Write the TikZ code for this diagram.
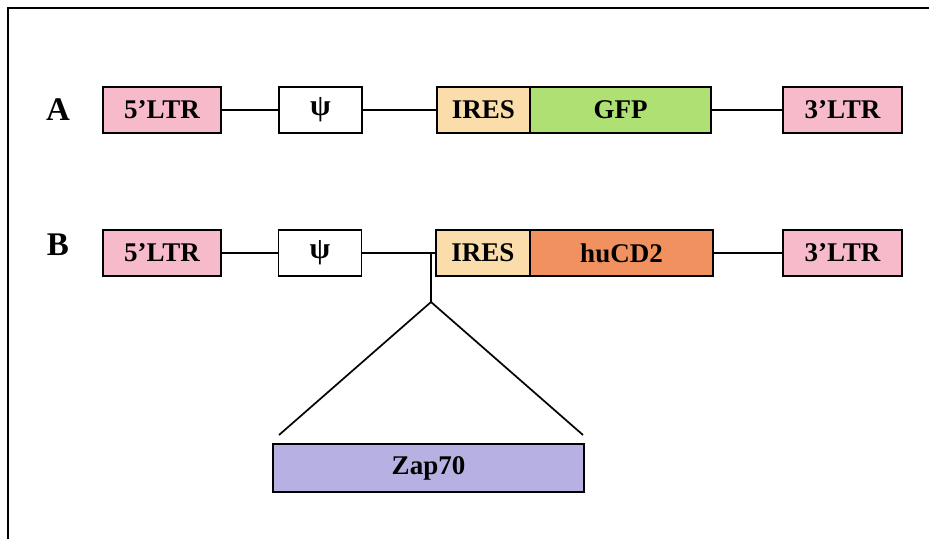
\documentclass[tikz,border=0pt]{standalone}
\usepackage{fontspec}
\setmainfont{Liberation Serif}
\definecolor{ltrpink}{RGB}{246,186,202}
\definecolor{irespeach}{RGB}{250,221,170}
\definecolor{gfpgreen}{RGB}{175,224,115}
\definecolor{cdorange}{RGB}{240,145,95}
\definecolor{zaplav}{RGB}{182,177,226}
\begin{document}
\begin{tikzpicture}[x=1pt,y=-1pt,
  seg/.style={draw=black,line width=1.9pt,rectangle,inner sep=0pt,minimum height=46pt,
    font=\fontsize{27}{30}\selectfont\bfseries},
  psistyle/.style={font=\fontsize{30}{32}\selectfont\bfseries},
  conn/.style={line width=1.7pt},
  rowlabel/.style={font=\fontsize{33}{36}\selectfont\bfseries,inner sep=0pt}]
\useasboundingbox (0,0) rectangle (929,539);
\draw[line width=2.2pt] (8,539) -- (8,8) -- (929,8);
% Row A
\node[rowlabel] (labA) at (58,110) {A};
\node[seg,fill=ltrpink,minimum width=118pt] (ltr5a) at (162,110) {5’LTR};
\node[seg,psistyle,fill=white,minimum width=83pt] (psia) at (320.5,110) {ψ};
\node[seg,fill=irespeach,minimum width=93pt] (iresa) at (483.5,110) {IRES};
\node[seg,fill=gfpgreen,minimum width=181pt] (gfp) at (620.5,110) {GFP};
\node[seg,fill=ltrpink,minimum width=119pt] (ltr3a) at (842.5,110) {3’LTR};
\draw[conn] (ltr5a.east) -- (psia.west);
\draw[conn] (psia.east) -- (iresa.west);
\draw[conn] (gfp.east) -- (ltr3a.west);
% Row B
\node[rowlabel] (labB) at (58,245) {B};
\node[seg,fill=ltrpink,minimum width=118pt] (ltr5b) at (162,253) {5’LTR};
\node[seg,psistyle,fill=white,minimum width=83pt] (psib) at (320,253) {ψ};
\node[seg,fill=irespeach,minimum width=94pt] (iresb) at (483,253) {IRES};
\node[seg,fill=cdorange,minimum width=183pt] (hucd) at (621.5,253) {huCD2};
\node[seg,fill=ltrpink,minimum width=119pt] (ltr3b) at (842.5,253) {3’LTR};
\draw[conn] (ltr5b.east) -- (psib.west);
\draw[conn] (psib.east) -- (iresb.west);
\draw[conn] (hucd.east) -- (ltr3b.west);
% Insert
\coordinate (junc) at (431,253);
\coordinate (apex) at (431,302);
\coordinate (triL) at (279,435);
\coordinate (triR) at (583,435);
\node[seg,fill=zaplav,minimum width=311pt,minimum height=48pt] (zap) at (428.5,468) {Zap70};
\draw[conn] (junc) -- (apex);
\draw[conn] (triL) -- (apex) -- (triR);
\end{tikzpicture}
\end{document}
